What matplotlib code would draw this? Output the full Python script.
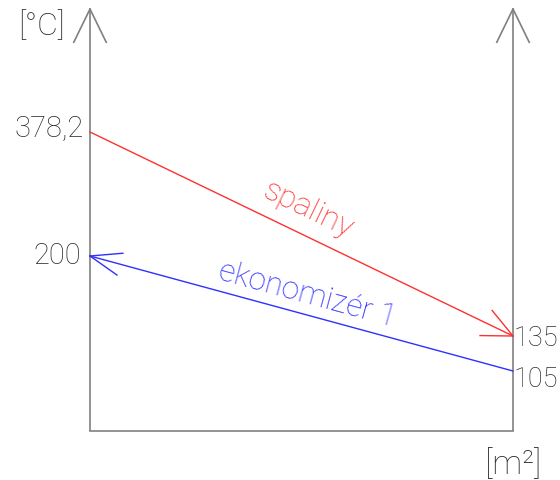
import numpy as np
import matplotlib.pyplot as plt

# schematic heights (pixels above the base line) and the printed values
red_x = [90, 513]
red_h = [299, 95]
red_lab = ['378,2', '135']
blue_x = [513, 90]
blue_h = [60, 175]
blue_lab = ['105', '200']
ax_h = 422

grey = '#808080'
txt = '#2c2c2c'
red = '#ff3030'
blue = '#3030ff'

plt.rcParams['font.family'] = ['Roboto', 'DejaVu Sans']

fig = plt.figure(figsize=(5.6, 4.81), dpi=100)
ax = fig.add_axes([0, 0, 1, 1])
ax.set_xlim(0, 560)
ax.set_ylim(-49, 432)
ax.axis('off')


def vhead(ax, tip, back, ang, ln, **kw):
    # open V arrow head
    d = np.array(back, float) - np.array(tip, float)
    a0 = np.arctan2(d[1], d[0])
    for s in (-1, 1):
        a = a0 + s * np.radians(ang)
        ax.plot([tip[0], tip[0] + ln * np.cos(a)], [tip[1], tip[1] + ln * np.sin(a)], **kw)


# frame
for x in red_x:
    ax.plot([x, x], [0, ax_h], color=grey, lw=1.2, solid_capstyle='butt')
    vhead(ax, (x, ax_h), (x, 0), 26, 37, color=grey, lw=1.2)
ax.plot(red_x, [0, 0], color=grey, lw=1.2)

# lines
ax.plot(red_x, red_h, color=red, lw=1.0)
vhead(ax, (red_x[1], red_h[1]), (red_x[0], red_h[0]), 25, 33, color=red, lw=1.0)
ax.plot(blue_x, blue_h, color=blue, lw=1.0)
vhead(ax, (blue_x[1], blue_h[1]), (blue_x[0], blue_h[0]), 20, 33, color=blue, lw=1.0)

fs = 21
kw = dict(fontsize=fs, color=txt, fontweight='light')
ax.text(84, red_h[0] + 4, red_lab[0], ha='right', va='center', **kw)
ax.text(81, blue_h[1] + 1, blue_lab[1], ha='right', va='center', **kw)
kw_r = dict(kw, fontsize=19.5)
ax.text(514, red_h[1] - 2, red_lab[1], ha='left', va='center', **kw_r)
ax.text(514, blue_h[0] - 8, blue_lab[0], ha='left', va='center', **kw_r)
ax.text(41, 406, '[°C]', ha='center', va='center', **dict(kw, fontsize=23))
ax.text(513, -33, '[m²]', ha='center', va='center', **dict(kw, fontsize=24))

ang_r = np.degrees(np.arctan2(red_h[1] - red_h[0], red_x[1] - red_x[0]))
ang_b = np.degrees(np.arctan2(blue_h[0] - blue_h[1], blue_x[0] - blue_x[1]))
ax.text(308, 222, 'spaliny', ha='center', va='center', rotation=ang_r,
        rotation_mode='anchor', fontsize=23, color=red, fontweight='light')
ax.text(307, 137, 'ekonomizér 1', ha='center', va='center', rotation=ang_b,
        rotation_mode='anchor', fontsize=22.5, color=blue, fontweight='light')

fig.savefig('out.png', dpi=100)
